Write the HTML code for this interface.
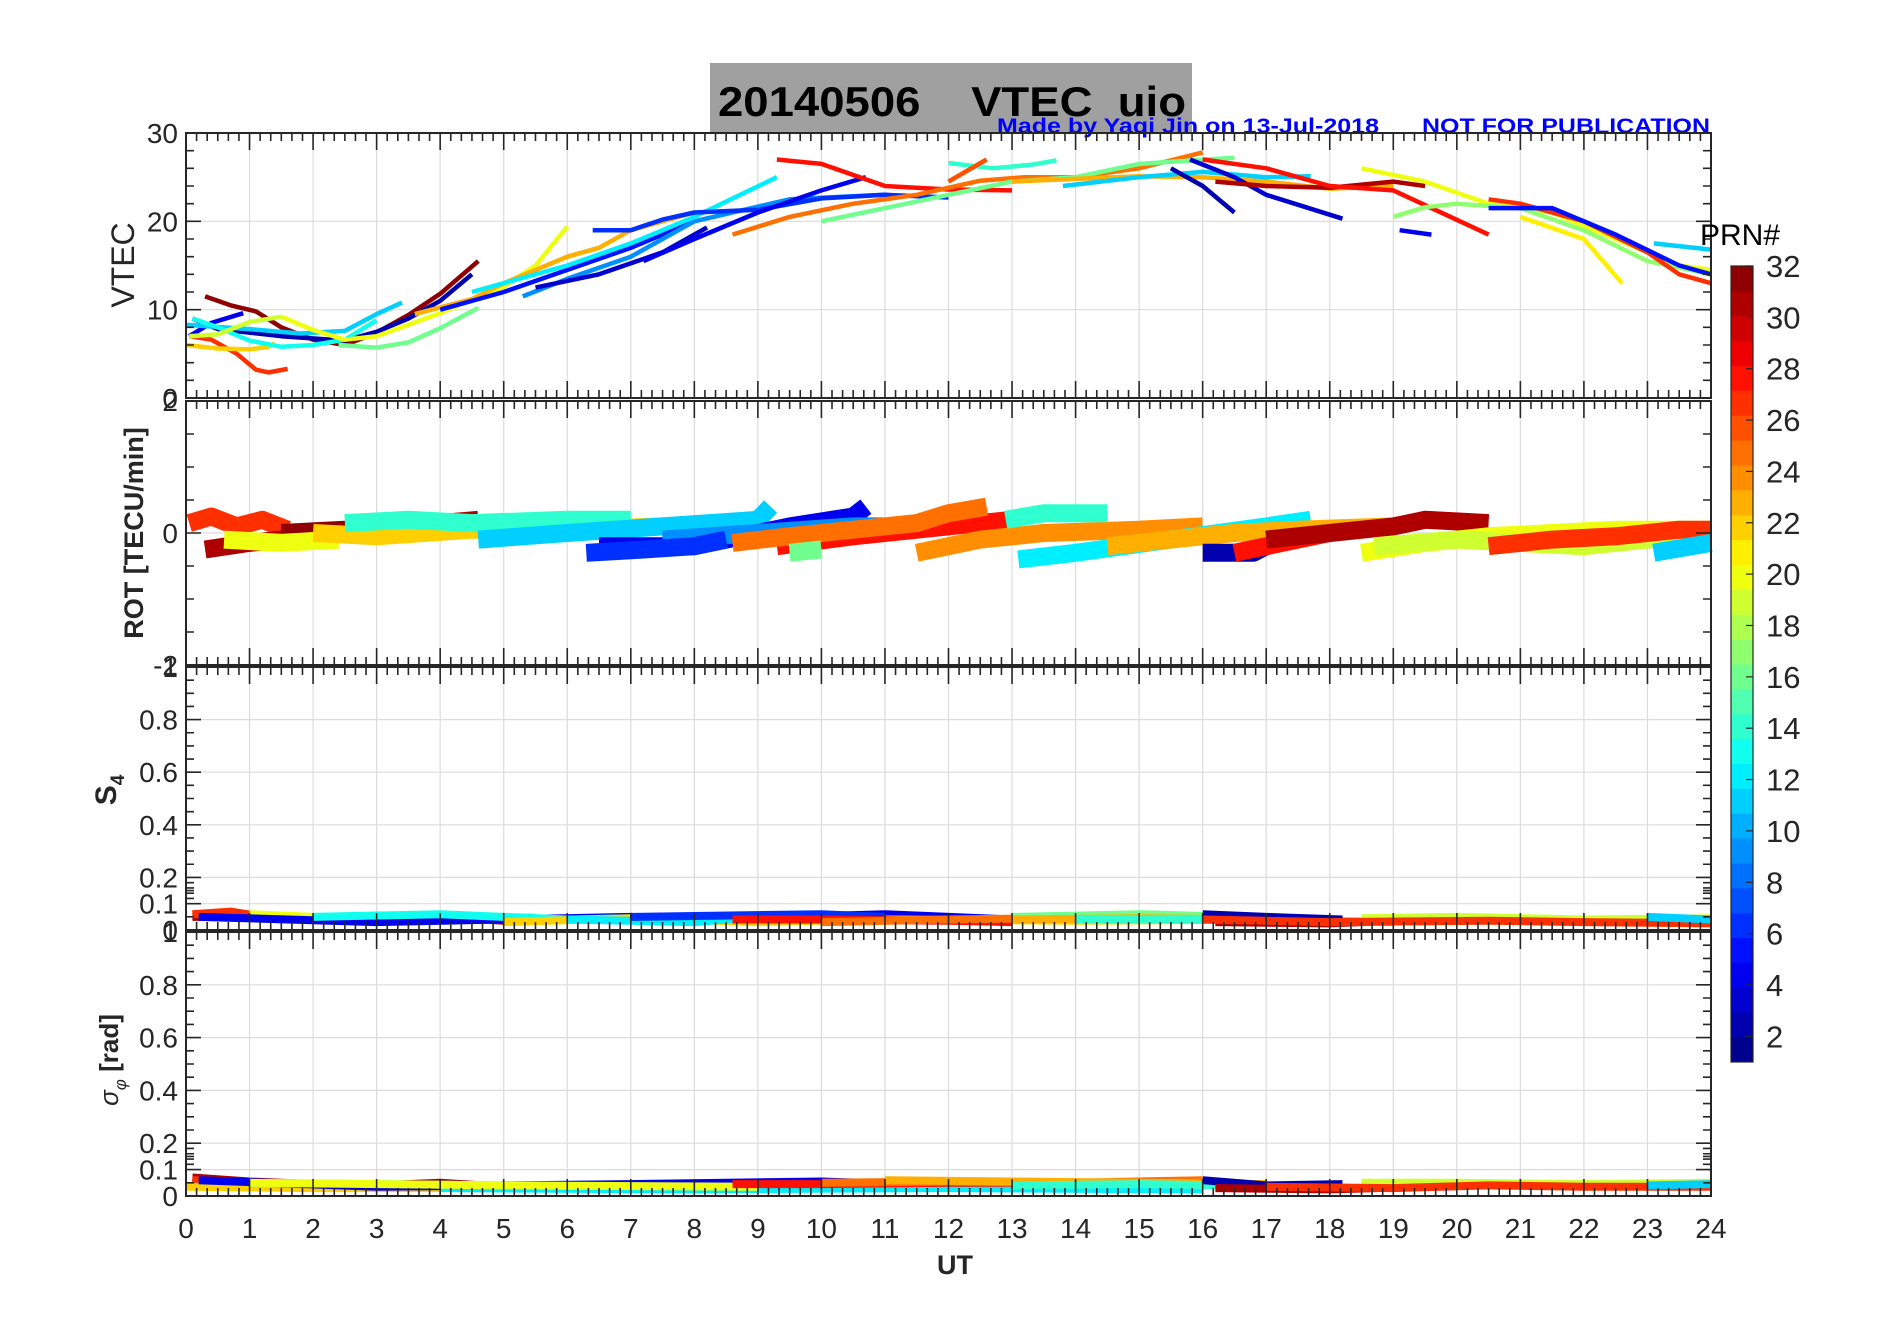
<!DOCTYPE html>
<html><head><meta charset="utf-8">
<style>
html,body{margin:0;padding:0;background:#fff;}
svg{display:block;font-family:"Liberation Sans",sans-serif;}
</style></head>
<body>
<svg id="fig" width="1902" height="1330" viewBox="0 0 1902 1330" xmlns="http://www.w3.org/2000/svg">
<rect x="710" y="63" width="482" height="70" fill="#a0a0a0"/>
<text x="718" y="116" font-size="42" font-weight="bold" fill="#000" textLength="468" lengthAdjust="spacingAndGlyphs" style="white-space:pre" xml:space="preserve">20140506    VTEC  uio</text>
<text x="997" y="133" font-size="21" font-weight="bold" fill="#0000ff" textLength="382" lengthAdjust="spacingAndGlyphs">Made by Yaqi Jin on 13-Jul-2018</text>
<text x="1422" y="133" font-size="21" font-weight="bold" fill="#0000ff" textLength="288" lengthAdjust="spacingAndGlyphs">NOT FOR PUBLICATION</text>
<g id="plots"></g>
</svg>
<script>
// ---- data (hours, value) ----
const hours = [0,1,2,3,4,5,6,7,8,9,10,11,12,13,14,15,16,17,18,19,20,21,22,23,24];
const vtecTicks = [0,10,20,30];
const rotTicks = [-2,0,2];
const s4Ticks = [0,0.1,0.2,0.4,0.6,0.8,1];
const sigTicks = [0,0.1,0.2,0.4,0.6,0.8,1];
const prnTicks = [2,4,6,8,10,12,14,16,18,20,22,24,26,28,30,32];

const vtecPrn = [32,27,22,4,2,11,13,19,20,16,23,5,9,12,6,3,4,28,25,16,14,26,23,11,2,3,31,28,20,4,17,27,5,21,11];
const vtecSeg = [
 [[0.3,11.5],[0.7,10.5],[1.1,9.8],[1.5,8],[2,6.6],[2.5,6],[3,7.4],[3.5,9.4],[4,11.8],[4.6,15.5]],
 [[0.05,7],[0.4,6.6],[0.8,5],[1.1,3.2],[1.3,2.9],[1.6,3.3]],
 [[0,6],[0.5,5.6],[1,5.5],[1.3,5.8],[1.4,6.2]],
 [[0.05,7],[0.4,8.5],[0.9,9.6]],
 [[0.1,9],[0.5,7.8],[1.5,7],[2.5,6.5],[3,7.5],[3.5,9],[4,11],[4.5,14]],
 [[0,8.3],[1,7.8],[1.8,7.3],[2.5,7.6],[3,9.5],[3.4,10.8]],
 [[0.1,9],[0.5,8],[1,6.5],[1.5,5.8],[2,6],[2.5,6.6],[3,8.8]],
 [[0.05,7],[0.5,7.2],[1,8.6],[1.5,9.2]],
 [[1.5,9.2],[2,7.7],[2.5,6.6],[3,7],[4,9.6],[5,12.6],[5.5,15],[6,19.4]],
 [[2.4,6],[3,5.7],[3.5,6.3],[4,7.9],[4.6,10.2]],
 [[3.6,9.5],[4.5,11.2],[5,13],[6,16],[6.5,17],[7,19],[8,21]],
 [[4,10],[5,12],[6,14.5],[7,17],[8,20]],
 [[5.3,11.5],[6,13.5],[7,16],[8,20],[9.5,22.5],[11,23]],
 [[4.5,12],[6,15],[7,17.5],[8,20.5],[9.3,25]],
 [[6.4,19],[7,19],[7.5,20.2],[8,21],[9,21.3],[10,22.6],[11,23],[12,22.7]],
 [[5.5,12.5],[6.5,14],[7.5,16.5],[8.2,19.3]],
 [[7.2,15.5],[8,18],[9,21],[10,23.5],[10.7,25]],
 [[9.3,27],[10,26.5],[11,24],[12,23.6],[13,23.5]],
 [[8.6,18.5],[9.5,20.5],[10.5,22],[11.5,23],[12.5,24.6],[13.2,25],[14,25],[15,26],[16,27.8]],
 [[10,20],[11,21.5],[12,23],[13,24.5],[14,25],[15,26.5],[16.5,27.2]],
 [[12,26.6],[12.7,26],[13.3,26.4],[13.7,26.9]],
 [[12,24.5],[12.6,27]],
 [[13,24.5],[14,24.8],[15,25.1],[16,25],[17,24.5],[18,23.7],[19,24]],
 [[13.8,24],[15,25],[16,25.6],[17,25],[17.7,25.1]],
 [[15.5,26],[16,24],[16.5,21]],
 [[15.8,27],[16.5,25],[17,23],[18.2,20.3]],
 [[16.2,24.5],[17,24],[18,23.8],[19,24.5],[19.5,24]],
 [[16,27],[17,26],[18,24],[19,23.5],[20.5,18.5]],
 [[18.5,26],[19.5,24.5],[20.5,22],[21.5,21],[22.5,18],[23.5,15],[24,14.5]],
 [[19.1,19],[19.6,18.5]],
 [[19,20.5],[19.5,21.6],[20,22],[21,21.5],[22,19],[23,15.5],[24,14]],
 [[20.5,22.5],[21,22],[22,20],[23,16.5],[23.5,14],[24,13]],
 [[20.5,21.5],[21.5,21.5],[22.5,18.5],[23.5,15],[24,14]],
 [[21,20.5],[22,18],[22.6,13]],
 [[23.1,17.5],[24,16.8]]
];

const rotPrn = [27,31,32,20,22,14,11,4,9,6,28,25,24,12,14,23,2,28,31,20,19,27,11,16];
const rotSeg = [
 [[0.05,0.15],[0.4,0.25],[0.8,0.1],[1.2,0.2],[1.6,0.05]],
 [[0.3,-0.25],[1,-0.15],[2,-0.05],[3,0.05],[4,0.15],[4.6,0.2]],
 [[1.5,0],[2.5,0.05],[3.5,0.1],[4.5,0.1]],
 [[0.6,-0.1],[1.5,-0.15],[2.4,-0.1]],
 [[2,0],[3,-0.05],[4.5,0.05],[6,0.05],[7.5,0.1],[9,0]],
 [[2.5,0.15],[3.5,0.2],[4.5,0.15],[6,0.2],[7,0.2]],
 [[4.6,-0.1],[6,0],[7.5,0.1],[9,0.2],[9.2,0.4]],
 [[6.5,-0.2],[8,-0.2],[9.5,0.1],[10.5,0.25],[10.7,0.4]],
 [[7.5,-0.1],[9,0],[10.5,0.1],[12,0.1],[12.4,0.2]],
 [[6.3,-0.3],[7.2,-0.25],[8,-0.2],[8.5,-0.1]],
 [[9.3,-0.2],[10.5,-0.05],[11.5,0.05],[12.5,0.15],[13,0.2]],
 [[8.6,-0.15],[9.5,-0.05],[10.5,0.05],[11.5,0.15],[12,0.3],[12.6,0.4]],
 [[11.5,-0.3],[12.5,-0.1],[13.5,0],[15,0.05],[16,0.1]],
 [[13.1,-0.4],[14,-0.3],[15.5,-0.1],[17,0.1],[17.7,0.2]],
 [[12.9,0.2],[13.5,0.3],[14.5,0.3]],
 [[14.5,-0.2],[15.5,-0.1],[16.5,0],[17.5,0.05],[19,0.1]],
 [[16,-0.3],[16.8,-0.3],[17,-0.2]],
 [[16.5,-0.3],[17,-0.2],[17.5,-0.1],[18,0]],
 [[17,-0.1],[18,0],[19,0.1],[19.5,0.2],[20.5,0.15]],
 [[18.5,-0.3],[19.5,-0.15],[20.5,-0.05],[21.5,0],[22.5,0.05],[24,0.05]],
 [[18.7,-0.2],[20,-0.1],[21,-0.15],[22,-0.2],[23,-0.1],[24,0]],
 [[20.5,-0.2],[21.5,-0.1],[22.5,-0.05],[23.5,0.05],[24,0.05]],
 [[23.1,-0.3],[24,-0.15]],
 [[9.5,-0.3],[10,-0.25]]
];

const s4Prn = [31,27,20,4,13,22,12,6,28,25,16,23,14,2,31,19,27,11];
const s4Seg = [
 [[0.1,0.05],[1,0.05],[2,0.04],[3,0.04],[4,0.05],[5,0.035]],
 [[0.1,0.06],[0.7,0.07],[1.5,0.04]],
 [[1,0.06],[2,0.05],[3,0.04],[4,0.04],[5.5,0.05]],
 [[0.2,0.05],[3,0.03],[7,0.05],[8,0.04],[11,0.06],[13,0.04]],
 [[2,0.05],[4,0.06],[6,0.04],[8,0.05],[9,0.04]],
 [[5,0.03],[7,0.045],[9,0.03],[11,0.04],[14,0.035],[17,0.04]],
 [[6,0.04],[8,0.03],[9,0.05]],
 [[7,0.05],[10,0.06],[11,0.05]],
 [[8.6,0.04],[10,0.04],[12,0.035],[13,0.03]],
 [[10,0.03],[12,0.04],[15,0.05],[16,0.04]],
 [[13,0.05],[15,0.06],[16.5,0.05]],
 [[13,0.04],[15,0.045],[17,0.04],[19,0.03]],
 [[14,0.04],[16,0.04],[17.7,0.035]],
 [[16,0.06],[17,0.05],[18.2,0.04]],
 [[16.2,0.03],[18,0.025],[19.5,0.04]],
 [[18.5,0.045],[20,0.05],[22,0.04],[24,0.045]],
 [[16,0.04],[18,0.03],[20.5,0.035],[22,0.03],[24,0.025]],
 [[23,0.05],[24,0.04]]
];

const sigPrn = [31,27,22,13,4,12,20,28,25,23,14,2,31,19,27,11];
const sigSeg = [
 [[0.1,0.07],[1,0.055],[2,0.045],[3,0.04],[4,0.05],[5,0.035]],
 [[0.1,0.06],[0.7,0.055],[1.5,0.045]],
 [[0,0.035],[2,0.03],[4,0.03],[6,0.03],[8,0.025]],
 [[1,0.05],[3,0.045],[5,0.04],[8,0.045],[9,0.04]],
 [[0.2,0.06],[3,0.035],[7,0.045],[10,0.055],[12,0.04]],
 [[4,0.03],[8,0.025],[12,0.03],[16,0.025]],
 [[1,0.05],[5,0.04],[9,0.035]],
 [[8.6,0.045],[10,0.045],[12,0.05],[13,0.05]],
 [[10,0.05],[12,0.055],[14,0.05],[16,0.06]],
 [[11,0.06],[13,0.055],[15,0.05],[17,0.045]],
 [[13,0.04],[15,0.045],[17.7,0.035]],
 [[16,0.06],[17,0.04],[18.2,0.045]],
 [[16.2,0.03],[18,0.025],[19.5,0.035]],
 [[18.5,0.05],[20,0.05],[22,0.045],[24,0.05]],
 [[17,0.035],[19,0.03],[20.5,0.04],[22,0.035],[24,0.035]],
 [[23,0.04],[24,0.045]]
];

// ---- layout ----
const X0=186, X1=1711;
const panels=[{t:133,b:398},{t:401,b:665},{t:667,b:930},{t:932,b:1196}];
function xS(h){return X0+(X1-X0)*h/24;}
function yS(p,v,lo,hi){return panels[p].b-(v-lo)/(hi-lo)*(panels[p].b-panels[p].t);}
function jet(i){
  const r=Math.min(Math.max(Math.min(4*i-1.5,-4*i+4.5),0),1);
  const g=Math.min(Math.max(Math.min(4*i-0.5,-4*i+3.5),0),1);
  const b=Math.min(Math.max(Math.min(4*i+0.5,-4*i+2.5),0),1);
  return `rgb(${Math.round(r*255)},${Math.round(g*255)},${Math.round(b*255)})`;
}
function prnColor(p){return jet((p-0.5)/32);}
const NS="http://www.w3.org/2000/svg";
const root=document.getElementById('plots');
function el(tag,attrs,parent){const e=document.createElementNS(NS,tag);for(const k in attrs)e.setAttribute(k,attrs[k]);(parent||root).appendChild(e);return e;}

const ranges=[[0,30],[-2,2],[0,1],[0,1]];
const tickSets=[vtecTicks,rotTicks,s4Ticks,sigTicks];
const minorSets=[[2,4,6,8,12,14,16,18,22,24,26,28],[-1.5,-1,-0.5,0.5,1,1.5],[0.05,0.15,0.12,0.14,0.16,0.18,0.25,0.3,0.35,0.45,0.5,0.55,0.65,0.7,0.75,0.85,0.9,0.95],[0.05,0.15,0.12,0.14,0.16,0.18,0.25,0.3,0.35,0.45,0.5,0.55,0.65,0.7,0.75,0.85,0.9,0.95]];
const panelNames=['vtec-panel','rot-panel','s4-panel','sigma-phi-panel'];

panels.forEach((P,pi)=>{
  const g=el('g',{});
  
  
  const [lo,hi]=ranges[pi];
  hours.forEach(h=>{ if(h>0&&h<24){const l=el('line',{x1:xS(h),x2:xS(h),y1:P.t,y2:P.b,stroke:'#dcdcdc','stroke-width':1.2},g);
    
    }});
  tickSets[pi].forEach(v=>{ if(v>lo&&v<hi){const y=yS(pi,v,lo,hi);const l=el('line',{x1:X0,x2:X1,y1:y,y2:y,stroke:'#dcdcdc','stroke-width':1.2},g);
    
    }});
});

function drawSeries(pi,segs,prns,width,name){
  const [lo,hi]=ranges[pi];
  const g=el('g',{});
  
  
  segs.forEach((s,i)=>{
    const d=s.map((p,j)=>(j?'L':'M')+xS(p[0]).toFixed(1)+' '+yS(pi,p[1],lo,hi).toFixed(1)).join(' ');
    const path=el('path',{d:d,fill:'none',stroke:prnColor(prns[i]),'stroke-width':width,'stroke-linejoin':'round','stroke-linecap':'butt'},g);
    
    
  });
}
drawSeries(0,vtecSeg,vtecPrn,4.5,'vtec-series');
drawSeries(1,rotSeg,rotPrn,18,'rot-series');
drawSeries(2,s4Seg,s4Prn,8,'s4-series');
drawSeries(3,sigSeg,sigPrn,8,'sigma-phi-series');

panels.forEach((P,pi)=>{
  const [lo,hi]=ranges[pi];
  const g=el('g',{});
  
  
  const r=el('rect',{x:X0,y:P.t,width:X1-X0,height:P.b-P.t,fill:'none',stroke:'#262626','stroke-width':2},g);
  
  
  let d='';
  for(let k=0;k<=144;k++){const h=k/6;const x=xS(h);const L=(k%6===0)?17:8;
    d+=`M${x} ${P.b}v${-L}M${x} ${P.t}v${L}`;}
  tickSets[pi].forEach(v=>{const y=yS(pi,v,lo,hi);d+=`M${X0} ${y}h15M${X1} ${y}h-15`;});
  minorSets[pi].forEach(v=>{const y=yS(pi,v,lo,hi);d+=`M${X0} ${y}h8M${X1} ${y}h-8`;});
  const tk=el('path',{d:d,stroke:'#262626','stroke-width':1.6,fill:'none'},g);
  
  
  tickSets[pi].forEach(v=>{const y=yS(pi,v,lo,hi);
    const t=el('text',{x:X0-8,y:y+10,'font-size':28,'text-anchor':'end',fill:'#262626'},g);
    t.textContent=String(v);
    
    
  });
});
hours.forEach(h=>{
  const t=el('text',{x:xS(h),y:1238,'font-size':28,'text-anchor':'middle',fill:'#262626'});
  t.textContent=String(h);
  
  
});
const ut=el('text',{x:955,y:1274,'font-size':27,'font-weight':'bold','text-anchor':'middle',fill:'#262626'});
ut.textContent='UT';



function ylab(txt,x,y,size,bold,name){
  const t=el('text',{x:0,y:0,'font-size':size,'font-weight':bold?'bold':'normal','text-anchor':'middle',fill:'#262626',transform:`translate(${x},${y}) rotate(-90)`});
  t.innerHTML=txt;
  
  
}
ylab('VTEC',134,265,32,false,'vtec-axis-title');
ylab('ROT [TECU/min]',143,533,27,true,'rot-axis-title');
ylab('S<tspan font-size="19" dy="8">4</tspan>',116,790,30,true,'s4-axis-title');
ylab('<tspan font-style="italic" font-weight="normal">σ</tspan><tspan font-size="17" dy="8" font-style="italic" font-weight="normal">φ</tspan><tspan dy="-8"> [rad]</tspan>',118,1060,26,true,'sigma-phi-axis-title');

const CB={x:1731,w:22,t:266,b:1062};
const cg=el('g',{});


for(let i=0;i<32;i++){
  const h=(CB.b-CB.t)/32;
  const r=el('rect',{x:CB.x,y:CB.b-(i+1)*h,width:CB.w,height:h+0.5,fill:jet((i+0.5)/32)},cg);
  
  
}
const cbBox=el('rect',{x:CB.x,y:CB.t,width:CB.w,height:CB.b-CB.t,fill:'none',stroke:'#262626','stroke-width':1.2},cg);


prnTicks.forEach(v=>{
  const y=CB.b-(v-1)/31*(CB.b-CB.t);
  const l=el('line',{x1:CB.x+CB.w-7,x2:CB.x+CB.w,y1:y,y2:y,stroke:'#262626','stroke-width':1.2},cg);
  
  
  const t=el('text',{x:1766,y:y+11,'font-size':31,fill:'#262626'},cg);
  t.textContent=String(v);
  
  
});
const pt=el('text',{x:1700,y:245,'font-size':30,fill:'#000'},cg);
pt.textContent='PRN#';


</script>
</body></html>
